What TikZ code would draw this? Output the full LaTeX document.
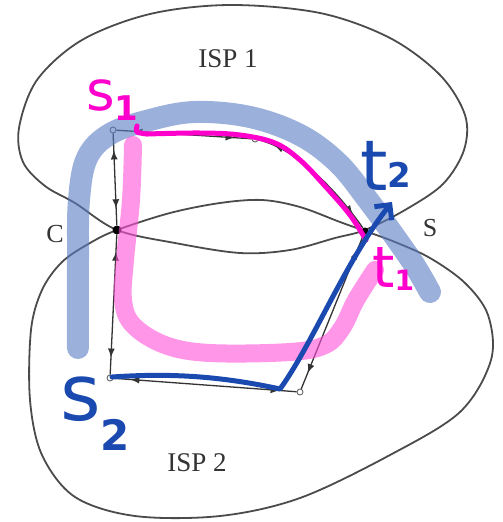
\documentclass[tikz,border=0pt]{standalone}
\usepackage{fontspec}
\setmainfont{Liberation Serif}
\newfontfamily\hand{DejaVu Sans}
\usetikzlibrary{arrows.meta,decorations.markings}
\definecolor{outl}{RGB}{75,75,75}
\definecolor{lblue}{RGB}{88,123,195}
\definecolor{lpink}{RGB}{255,80,217}
\definecolor{mag}{RGB}{255,0,204}
\definecolor{dblue}{RGB}{26,74,175}
\begin{document}
\begin{tikzpicture}[x=1pt,y=-1pt,
  isp/.style={draw=outl, line width=1.8pt},
  gnode/.style={circle, draw=black!60, fill=white, inner sep=0pt, minimum size=6pt, line width=0.9pt},
  bnode/.style={circle, fill=black, inner sep=0pt, minimum size=9pt},
  gedge/.style={draw=black!80, line width=1.3pt, postaction={decorate},
    decoration={markings,
      mark=at position 17pt with {\arrowreversed{Latex[length=9pt,width=7pt]}},
      mark=at position -17pt with {\arrow{Latex[length=9pt,width=7pt]}}}},
  lbl/.style={text=black!80, inner sep=0pt, anchor=base, font=\fontsize{27}{27}\selectfont},
  hl/.style={line cap=round, line join=round, opacity=0.6},
  pen/.style={line width=5pt, line cap=round, line join=round},
  hw/.style={inner sep=0pt, anchor=base west}
]
\useasboundingbox (0,0) rectangle (503,522);

% ISP 1 outline
\draw[isp] plot[smooth cycle, tension=0.55] coordinates {
  (117,230) (175,243) (240,253) (290,250) (335,238) (365,230) (405,210)
  (443,184) (464,150) (465,115) (440,75) (390,38) (320,13) (230,5)
  (150,14) (82,40) (37,80) (19,128) (23,162) (45,186) (75,203)};
% ISP 2 outline
\draw[isp] plot[smooth cycle, tension=0.55] coordinates {
  (117,230) (90,243) (62,262) (42,290) (31,330) (30,400) (42,455)
  (75,497) (135,516) (220,516) (300,498) (390,455) (460,412) (491,360)
  (488,315) (465,283) (430,258) (395,242) (365,231) (340,222) (300,207)
  (262,200) (220,203) (170,213)};

\node[lbl] (isp1) at (228,67) {ISP 1};
\node[lbl] (isp2) at (197,471) {ISP 2};
\node[lbl, font=\fontsize{26}{26}\selectfont] (lc) at (55,242) {C};
\node[lbl, font=\fontsize{26}{26}\selectfont] (ls) at (430,236) {S};

% graph
\node[gnode] (A) at (113,130) {};
\node[gnode] (B) at (255,139) {};
\node[bnode] (C) at (117,230) {};
\node[bnode, minimum size=7pt] (R) at (365,231) {};
\node[gnode] (D) at (110,378) {};
\node[gnode] (E) at (300,392) {};

\draw[gedge] (A) -- (C);
\draw[gedge] (C) -- (D);
\draw[gedge] (A) -- (B);
\draw[gedge] (B) .. controls (300,150) and (340,195) .. (R);
\draw[gedge] (D) -- (E);
\draw[gedge] (E) -- (R);

% highlighter strokes
\draw[hl, lblue, line width=22pt] plot[smooth, tension=0.6] coordinates {
  (78,348) (78,260) (79,200) (87,158) (110,134) (150,120) (195,112)
  (250,117) (300,135) (338,163) (368,200) (395,237) (415,266) (430,292)};
\draw[hl, lpink, line width=18pt] plot[smooth, tension=0.6] coordinates {
  (133,145) (131,200) (125,260) (123,300) (133,325) (165,345) (210,353)
  (290,352) (325,345) (342,328) (356,300) (375,270)};

% magenta pen path s1 -> t1
\draw[pen, mag] plot[smooth, tension=0.5] coordinates {
  (137,126) (137,132) (147,134)};
\draw[pen, mag] plot[smooth, tension=0.6] coordinates {
  (147,134) (200,133) (240,135) (275,143) (300,160) (325,186) (350,215) (366,240)};
\node[hw, text=mag] (s1) at (86,110) {\hand\fontsize{55}{55}\selectfont s\raisebox{-10pt}{\fontsize{34}{34}\selectfont\bfseries 1}};
\node[hw, text=mag] (t1) at (372,287) {\hand\fontsize{57}{57}\selectfont t\raisebox{-3pt}{\fontsize{28}{28}\selectfont\bfseries 1}};

% dark blue pen path s2 -> t2
\draw[pen, dblue, -{Straight Barb[length=11pt,width=22pt]}]
  (112,377) .. controls (170,373) and (220,376) .. (280,389)
  .. controls (312,345) and (345,262) .. (392,202);
\node[hw, text=dblue] (s2) at (60,420) {\hand\fontsize{78}{78}\selectfont s\raisebox{-30pt}{\fontsize{42}{42}\selectfont\bfseries 2}};
\node[hw, text=dblue] (t2) at (360,190) {\hand\fontsize{70}{70}\selectfont t\raisebox{3pt}{\fontsize{34}{34}\selectfont\bfseries 2}};
\end{tikzpicture}
\end{document}
